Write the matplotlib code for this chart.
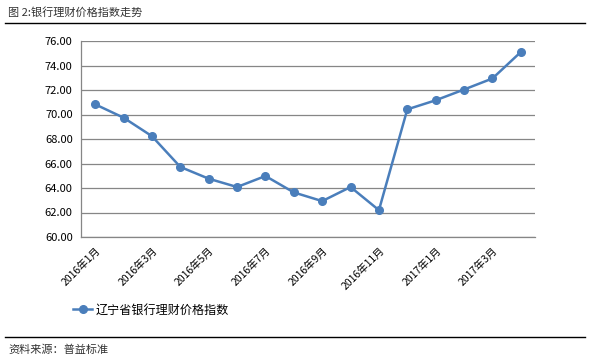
import numpy as np
import matplotlib.pyplot as plt
from matplotlib.lines import Line2D

plt.rcParams['font.family'] = ['Noto Sans CJK SC', 'DejaVu Sans']

LINE_COLOR = "#4a7ebb"
GRID_COLOR = "#868686"

months = ['2016年1月', '2016年2月', '2016年3月', '2016年4月', '2016年5月', '2016年6月',
          '2016年7月', '2016年8月', '2016年9月', '2016年10月', '2016年11月', '2016年12月',
          '2017年1月', '2017年2月', '2017年3月', '2017年4月']
index_values = [70.83, 69.74, 68.23, 65.72, 64.76, 64.08, 64.98, 63.64,
                62.93, 64.08, 62.19, 70.42, 71.16, 72.04, 72.94, 75.10]
yticks = [60, 62, 64, 66, 68, 70, 72, 74, 76]
series_name = '辽宁省银行理财价格指数'

fig = plt.figure(figsize=(5.89, 3.62), dpi=100)
ax = fig.add_axes([81/589, 1 - 237/362, (535 - 81)/589, (237 - 41)/362])

x = np.arange(len(months))
ax.plot(x, index_values, color=LINE_COLOR, lw=1.8, marker='o', markersize=5.5, zorder=3)

ax.set_xlim(-0.5, len(months) - 0.5)
ax.set_ylim(60, 76)
ax.set_yticks(yticks)
ax.set_yticklabels([f'{v:.2f}' for v in yticks], fontsize=8)
ax.yaxis.grid(True, color=GRID_COLOR, lw=0.9)
ax.set_axisbelow(True)

ax.set_xticks(x[::2])
ax.set_xticklabels(months[::2], rotation=45, ha='right', va='top', fontsize=7.5,
                   rotation_mode='anchor')
ax.tick_params(axis='both', length=0, pad=6)
ax.tick_params(axis='x', pad=6)

for s in ['top', 'right']:
    ax.spines[s].set_visible(False)
for s in ['left', 'bottom']:
    ax.spines[s].set_color(GRID_COLOR)
    ax.spines[s].set_linewidth(0.9)

handle = Line2D([], [], color=LINE_COLOR, lw=1.8, marker='o', markersize=5.5)
fig.legend([handle], [series_name], loc='center left', bbox_to_anchor=(62/589, 1 - 310/362),
           frameon=False, fontsize=8.7, handlelength=1.6, handletextpad=0.25)

fig.text(8/589, 1 - 12/362, '图 2:银行理财价格指数走势', fontsize=8, va='center', ha='left',
         color='#333333')
fig.add_artist(Line2D([5/589, 585/589], [1 - 23/362, 1 - 23/362], color='black', lw=1))
fig.add_artist(Line2D([5/589, 585/589], [1 - 337/362, 1 - 337/362], color='black', lw=1))
fig.text(8/589, 1 - 350/362, '资料来源：普益标准', fontsize=8, va='center', ha='left',
         color='#333333')

fig.savefig('out.png', dpi=100)
